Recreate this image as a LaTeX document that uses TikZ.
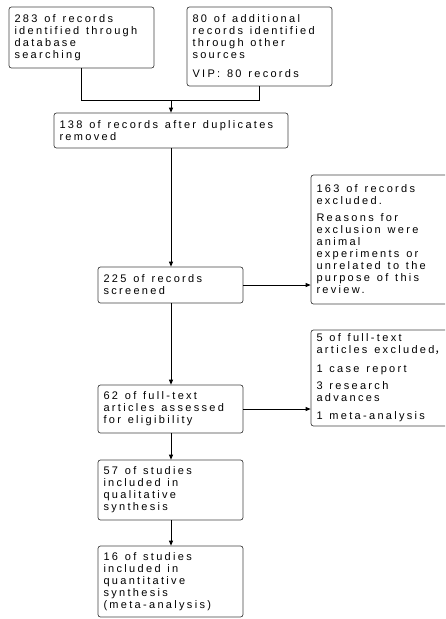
\documentclass[tikz,border=0pt]{standalone}
\usepackage{fontspec}
\setmainfont[LetterSpace=21]{Liberation Sans}
\newfontfamily\cjk{Noto Sans CJK SC}
\usetikzlibrary{arrows.meta}
\DeclareRobustCommand\boxfont{\fontsize{11}{12}\selectfont}
\DeclareRobustCommand\boxspacing{\spaceskip=6.8pt plus 1pt\relax\hyphenpenalty=10000\relax}
\begin{document}
\begin{tikzpicture}[x=1pt,y=-1pt,
  box/.style={draw=black!75, line width=0.7pt, rounded corners=2.5pt, align=left,
    inner xsep=5.5pt, inner ysep=0pt, text width=134pt, minimum height=#1,
    font=\boxfont, execute at begin node=\boxspacing},
  box/.default=40pt,
  wide/.style={text width=223pt},
  conn/.style={line width=0.8pt, black},
  arr/.style={conn, -{Triangle[length=5pt,width=4pt]}}]
\useasboundingbox (0,0) rectangle (445,619);
\clip (0,0) rectangle (445,619);
\node[box=61pt] (b1) at (81.5,37.5) {283 of records\\identified through\\database\\searching};
\node[box=79pt] (b2) at (259.5,46.5) {80 of additional\\records identified\\through other\\sources\\[7pt]VIP: 80 records};
\node[box=35pt, wide] (b3) at (171,130.5) {138 of records after duplicates\\removed};
\node[box=36pt] (b4) at (170.5,285) {225 of records\\screened};
\node[box=129pt] (b5) at (383.5,239.5) {163 of records\\excluded.\\[5pt]Reasons for\\exclusion were\\animal\\experiments or\\unrelated to the\\purpose of this\\review.};
\node[box=48pt] (b6) at (170.5,409) {62 of full-text\\articles assessed\\for eligibility};
\node[box=96pt] (b7) at (383.5,378) {5 of full-text\\articles excluded{\cjk ，}\\[7pt]1 case report\\[5pt]3 research\\advances\\[6pt]1 meta-analysis};
\node[box=60pt] (b8) at (170.5,490) {57 of studies\\included in\\qualitative\\synthesis};
\node[box=71pt] (b9) at (170.5,581.5) {16 of studies\\included in\\quantitative\\synthesis\\(meta-analysis)};
\coordinate (j) at (171,100);
\draw[conn] (b1.south) |- (b2.south |- j) -- (b2.south);
\draw[arr] (j) -- (j |- b3.north);
\draw[arr] (j |- b3.south) -- (j |- b4.north);
\draw[arr] (b4.east) -- (b4.east -| b5.west);
\draw[arr] (j |- b4.south) -- (j |- b6.north);
\draw[arr] (b6.east) -- (b6.east -| b7.west);
\draw[arr] (j |- b6.south) -- (j |- b8.north);
\draw[arr] (j |- b8.south) -- (j |- b9.north);
\end{tikzpicture}
\end{document}
